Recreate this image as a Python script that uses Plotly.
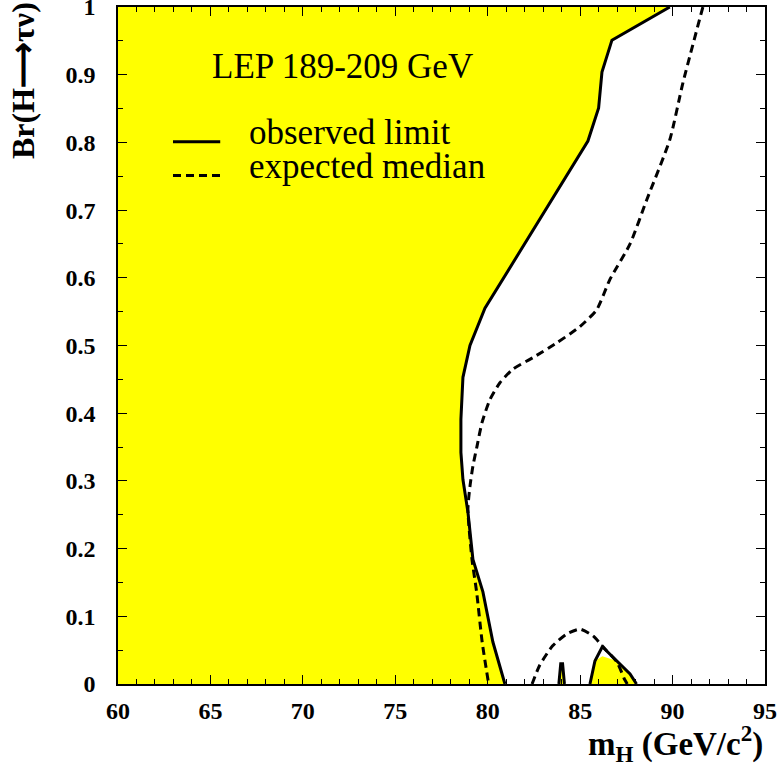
import plotly.graph_objects as go

# observed limit, main branch (from top down to Br=0)
obs_x = [89.85, 86.72, 86.18, 86.0, 85.42, 79.85, 79.04, 78.66, 78.55, 78.55, 78.66, 78.93, 79.2, 79.74, 80.28, 80.93]
obs_y = [1.0, 0.951, 0.904, 0.851, 0.802, 0.555, 0.50, 0.453, 0.391, 0.342, 0.302, 0.254, 0.184, 0.136, 0.062, 0.0]

# observed small spike near 84
spike_x = [83.85, 83.95, 84.05, 84.15]
spike_y = [0.0, 0.03, 0.03, 0.0]

# observed hump near 86
hump_x = [85.53, 85.8, 86.2, 87.0, 87.7, 88.05]
hump_y = [0.0, 0.034, 0.055, 0.034, 0.015, 0.0]

# expected median, main branch
exp_x = [91.64, 90.56, 89.85, 88.6, 87.7, 86.6, 85.9, 84.99, 83.74, 82.44, 81.36, 80.66, 80.12,
         79.69, 79.42, 79.2, 79.04, 78.93, 79.15, 79.4, 79.7, 80.05]
exp_y = [1.0, 0.888, 0.804, 0.715, 0.65, 0.597, 0.553, 0.528, 0.504, 0.482, 0.465, 0.445, 0.420,
         0.386, 0.351, 0.322, 0.292, 0.258, 0.184, 0.136, 0.062, 0.0]

# expected median, hump
exph_x = [82.4, 82.8, 83.5, 84.28, 84.99, 85.7, 86.2, 87.0, 87.4, 87.55]
exph_y = [0.0, 0.027, 0.056, 0.074, 0.081, 0.071, 0.056, 0.032, 0.007, 0.0]

x_ticks = [60, 65, 70, 75, 80, 85, 90, 95]
y_ticks = [0, 0.1, 0.2, 0.3, 0.4, 0.5, 0.6, 0.7, 0.8, 0.9, 1]
y_ticklabels = ["0", "0.1", "0.2", "0.3", "0.4", "0.5", "0.6", "0.7", "0.8", "0.9", "1"]

YELLOW = "#ffff00"
FONT = "Liberation Serif"
DASH = "8px,5px"

fig = go.Figure()

# excluded region (yellow)
fig.add_trace(go.Scatter(x=[60] + obs_x + [60], y=[1] + obs_y + [0], fill="toself",
                         fillcolor=YELLOW, line=dict(width=0), mode="lines", hoverinfo="skip"))
fig.add_trace(go.Scatter(x=spike_x, y=spike_y, fill="toself", fillcolor=YELLOW,
                         line=dict(width=0), mode="lines", hoverinfo="skip"))
fig.add_trace(go.Scatter(x=hump_x, y=[min(v, 0.041) for v in hump_y], fill="toself", fillcolor=YELLOW,
                         line=dict(width=0), mode="lines", hoverinfo="skip"))

# expected lines
for xs, ys in [(exp_x, exp_y), (exph_x, exph_y)]:
    fig.add_trace(go.Scatter(x=xs, y=ys, mode="lines",
                             line=dict(color="black", width=3, dash=DASH, shape="spline", smoothing=0.6)))

# observed lines
for xs, ys in [(obs_x, obs_y), (spike_x, spike_y), (hump_x, hump_y)]:
    fig.add_trace(go.Scatter(x=xs, y=ys, mode="lines", line=dict(color="black", width=3)))

axis_common = dict(showgrid=False, zeroline=False, showline=True, linecolor="black", linewidth=1.5,
                   mirror="allticks", ticks="inside", ticklen=9, tickwidth=1.2, tickcolor="black",
                   automargin=False, ticklabeloverflow="allow",
                   tickfont=dict(family=FONT, size=24, color="black"))

fig.update_xaxes(range=[60, 95], tickvals=x_ticks, ticktext=[f"<b>{v}</b>" for v in x_ticks],
                 minor=dict(ticks="inside", dtick=1, ticklen=5, tickcolor="black", tickwidth=1.2),
                 ticklabelstandoff=4, **axis_common)
fig.update_yaxes(range=[0, 1], tickvals=y_ticks, ticktext=[f"<b>{t}</b>" for t in y_ticklabels],
                 minor=dict(ticks="inside", dtick=0.05, ticklen=5, tickcolor="black", tickwidth=1.2),
                 ticklabelstandoff=16, **axis_common)

fig.add_annotation(x=0.142, y=0.912, xref="paper", yref="paper", xanchor="left", yanchor="middle",
                   text="LEP 189-209 GeV", showarrow=False, font=dict(family=FONT, size=35, color="black"))
fig.add_annotation(x=0.2, y=0.815, xref="paper", yref="paper", xanchor="left", yanchor="middle",
                   text="observed limit", showarrow=False, font=dict(family=FONT, size=35, color="black"))
fig.add_annotation(x=0.2, y=0.764, xref="paper", yref="paper", xanchor="left", yanchor="middle",
                   text="expected median", showarrow=False, font=dict(family=FONT, size=35, color="black"))
fig.add_shape(type="line", xref="paper", yref="paper", x0=0.085, x1=0.158, y0=0.801, y1=0.801,
              line=dict(color="black", width=3))
fig.add_shape(type="line", xref="paper", yref="paper", x0=0.085, x1=0.158, y0=0.751, y1=0.751,
              line=dict(color="black", width=3, dash=DASH))

# axis titles
fig.add_annotation(x=1.0, y=-0.088, xref="paper", yref="paper", xanchor="right", yanchor="middle",
                   text="<b>m<sub>H</sub> (GeV/c<sup>2</sup>)</b>", showarrow=False,
                   font=dict(family=FONT, size=33, color="black"))
fig.add_annotation(x=-0.148, y=1.01, xref="paper", yref="paper", xanchor="center", yanchor="top",
                   text="<b>Br(H⟶τν)</b>", textangle=-90, showarrow=False,
                   font=dict(family=FONT, size=32, color="black"))

fig.update_layout(width=777, height=769, showlegend=False, plot_bgcolor="white", paper_bgcolor="white",
                  margin=dict(l=118, r=12, t=7, b=85))

fig.write_html("out.html", config={"displayModeBar": False},
               post_script="document.body.style.margin='0';document.body.style.overflow='hidden';")
